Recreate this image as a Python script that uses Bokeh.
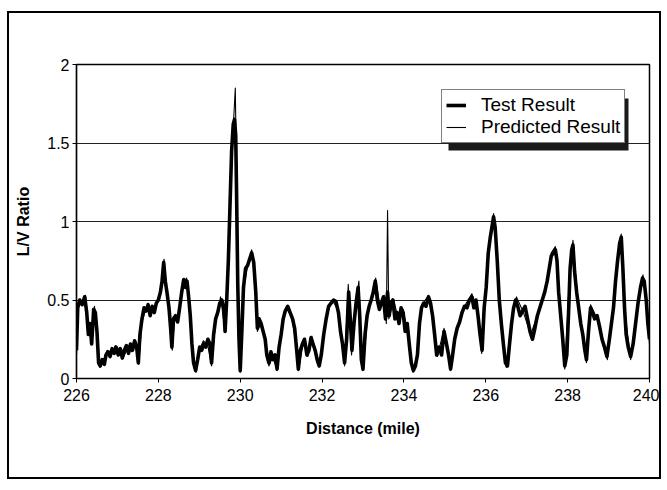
import math
from bokeh.plotting import figure
from bokeh.models import (Range1d, FixedTicker, Legend, LegendItem, Label, BoxAnnotation)
from bokeh.embed import file_html
from bokeh.resources import INLINE

# ---- data ----
x_ticks = [226, 228, 230, 232, 234, 236, 238, 240]
y_ticks = [0, 0.5, 1, 1.5, 2]
y_tick_labels = {0: "0", 0.5: "0.5", 1: "1", 1.5: "1.5", 2: "2"}
grid_levels = [0.5, 1, 1.5]

test_x = [226.00, 226.03, 226.08, 226.14, 226.20, 226.25, 226.29, 226.33, 226.37, 226.42,
          226.46, 226.50, 226.54, 226.58, 226.63, 226.68, 226.72, 226.77, 226.82, 226.87,
          226.92, 226.97, 227.02, 227.07, 227.12, 227.17, 227.22, 227.27, 227.32, 227.37,
          227.42, 227.47, 227.51, 227.55, 227.60, 227.65, 227.70, 227.75, 227.80, 227.85,
          227.90, 227.95, 228.00, 228.05, 228.09, 228.13, 228.17, 228.21, 228.26, 228.30,
          228.33, 228.37, 228.42, 228.47, 228.52, 228.57, 228.62, 228.66, 228.70, 228.74,
          228.78, 228.82, 228.86, 228.91, 228.96, 229.01, 229.06, 229.11, 229.16, 229.21,
          229.26, 229.30, 229.35, 229.40, 229.45, 229.50, 229.55, 229.60, 229.63, 229.67,
          229.71, 229.75, 229.79, 229.83, 229.86, 229.89, 229.91, 229.94, 229.97, 230.00,
          230.04, 230.08, 230.13, 230.18, 230.23, 230.28, 230.33, 230.38, 230.42, 230.46,
          230.51, 230.56, 230.61, 230.65, 230.70, 230.75, 230.80, 230.85, 230.90, 230.95,
          231.00, 231.05, 231.10, 231.16, 231.22, 231.28, 231.33, 231.38, 231.42, 231.47,
          231.52, 231.57, 231.63, 231.68, 231.73, 231.78, 231.83, 231.88, 231.93, 231.98,
          232.04, 232.10, 232.16, 232.22, 232.28, 232.34, 232.40, 232.45, 232.50, 232.55,
          232.60, 232.65, 232.69, 232.73, 232.78, 232.83, 232.88, 232.92, 232.96, 233.00,
          233.05, 233.10, 233.15, 233.20, 233.25, 233.30, 233.35, 233.40, 233.45, 233.50,
          233.55, 233.60, 233.64, 233.68, 233.73, 233.78, 233.83, 233.88, 233.93, 233.98,
          234.03, 234.08, 234.13, 234.18, 234.23, 234.28, 234.33, 234.38, 234.43, 234.48,
          234.54, 234.60, 234.65, 234.70, 234.75, 234.80, 234.86, 234.92, 234.98, 235.04,
          235.09, 235.14, 235.19, 235.24, 235.30, 235.36, 235.42, 235.48, 235.54, 235.60,
          235.66, 235.71, 235.76, 235.81, 235.86, 235.91, 235.96, 236.01, 236.06, 236.11,
          236.16, 236.19, 236.23, 236.28, 236.33, 236.38, 236.43, 236.48, 236.53, 236.58,
          236.63, 236.68, 236.73, 236.78, 236.84, 236.90, 236.96, 237.02, 237.08, 237.14,
          237.20, 237.26, 237.32, 237.38, 237.44, 237.50, 237.55, 237.60, 237.65, 237.70,
          237.74, 237.78, 237.83, 237.88, 237.93, 237.98, 238.02, 238.06, 238.10, 238.13,
          238.17, 238.22, 238.27, 238.32, 238.37, 238.42, 238.46, 238.51, 238.56, 238.61,
          238.66, 238.72, 238.78, 238.84, 238.90, 238.96, 239.02, 239.07, 239.12, 239.17,
          239.22, 239.27, 239.31, 239.35, 239.39, 239.43, 239.48, 239.54, 239.60, 239.66,
          239.72, 239.78, 239.83, 239.87, 239.92, 239.96, 240.00]
test_y = [0.18, 0.45, 0.50, 0.47, 0.52, 0.42, 0.28, 0.35, 0.22, 0.44,
          0.42, 0.30, 0.10, 0.08, 0.12, 0.09, 0.15, 0.17, 0.14, 0.19,
          0.16, 0.20, 0.15, 0.19, 0.13, 0.18, 0.21, 0.16, 0.22, 0.18,
          0.24, 0.20, 0.10, 0.28, 0.38, 0.45, 0.43, 0.47, 0.40, 0.46,
          0.42, 0.48, 0.50, 0.55, 0.62, 0.74, 0.62, 0.55, 0.45, 0.32,
          0.20, 0.38, 0.40, 0.36, 0.45, 0.55, 0.63, 0.58, 0.62, 0.52,
          0.40, 0.22, 0.10, 0.05, 0.12, 0.20, 0.18, 0.22, 0.20, 0.25,
          0.22, 0.10, 0.28, 0.38, 0.42, 0.48, 0.50, 0.45, 0.30, 0.50,
          0.75, 1.10, 1.45, 1.62, 1.65, 1.55, 1.20, 0.60, 0.25, 0.05,
          0.30, 0.58, 0.70, 0.72, 0.76, 0.80, 0.74, 0.55, 0.32, 0.38,
          0.35, 0.30, 0.25, 0.15, 0.10, 0.17, 0.12, 0.15, 0.06, 0.20,
          0.28, 0.38, 0.43, 0.46, 0.42, 0.38, 0.32, 0.18, 0.06, 0.18,
          0.22, 0.25, 0.15, 0.18, 0.26, 0.22, 0.18, 0.12, 0.08, 0.15,
          0.28, 0.38, 0.46, 0.48, 0.50, 0.49, 0.42, 0.30, 0.22, 0.10,
          0.25, 0.55, 0.38, 0.18, 0.35, 0.48, 0.58, 0.40, 0.12, 0.06,
          0.28, 0.40, 0.46, 0.50, 0.55, 0.62, 0.50, 0.44, 0.48, 0.52,
          0.38, 0.55, 0.40, 0.48, 0.50, 0.38, 0.42, 0.35, 0.45, 0.42,
          0.30, 0.35, 0.22, 0.10, 0.05, 0.08, 0.15, 0.35, 0.45, 0.48,
          0.46, 0.52, 0.48, 0.40, 0.28, 0.15, 0.20, 0.15, 0.30, 0.22,
          0.15, 0.06, 0.15, 0.25, 0.32, 0.36, 0.42, 0.46, 0.45, 0.50,
          0.52, 0.45, 0.50, 0.40, 0.28, 0.18, 0.45, 0.58, 0.80, 0.90,
          0.98, 1.03, 0.96, 0.75, 0.50, 0.35, 0.22, 0.10, 0.08, 0.22,
          0.35, 0.45, 0.50, 0.46, 0.40, 0.43, 0.46, 0.38, 0.30, 0.25,
          0.32, 0.40, 0.45, 0.50, 0.55, 0.62, 0.70, 0.78, 0.80, 0.82,
          0.75, 0.55, 0.40, 0.25, 0.08, 0.15, 0.40, 0.70, 0.82, 0.85,
          0.68, 0.55, 0.45, 0.35, 0.28, 0.18, 0.12, 0.30, 0.45, 0.42,
          0.38, 0.40, 0.33, 0.25, 0.20, 0.14, 0.25, 0.35, 0.45, 0.62,
          0.75, 0.86, 0.90, 0.70, 0.45, 0.28, 0.20, 0.14, 0.22, 0.35,
          0.48, 0.58, 0.64, 0.62, 0.50, 0.35, 0.25]

pred_x = [226.00, 226.05, 226.15, 226.22, 226.30, 226.38, 226.44, 226.52, 226.57, 226.66,
          226.75, 226.85, 226.95, 227.05, 227.15, 227.25, 227.35, 227.45, 227.52, 227.60,
          227.70, 227.82, 227.92, 228.02, 228.10, 228.14, 228.20, 228.28, 228.34, 228.40,
          228.50, 228.60, 228.69, 228.76, 228.84, 228.92, 229.00, 229.10, 229.20, 229.30,
          229.40, 229.52, 229.62, 229.68, 229.76, 229.82, 229.88, 229.92, 229.96, 230.00,
          230.07, 230.17, 230.28, 230.36, 230.42, 230.52, 230.62, 230.70, 230.80, 230.90,
          231.00, 231.12, 231.25, 231.35, 231.42, 231.55, 231.65, 231.75, 231.88, 231.98,
          232.10, 232.25, 232.38, 232.50, 232.55, 232.64, 232.72, 232.86, 232.90, 232.96,
          233.00, 233.12, 233.25, 233.31, 233.42, 233.52, 233.57, 233.60, 233.63, 233.75,
          233.86, 233.98, 234.10, 234.22, 234.30, 234.42, 234.60, 234.72, 234.82, 234.98,
          235.14, 235.30, 235.50, 235.66, 235.80, 235.90, 236.02, 236.12, 236.19, 236.26,
          236.36, 236.50, 236.65, 236.75, 236.92, 237.10, 237.28, 237.45, 237.60, 237.70,
          237.80, 237.93, 238.06, 238.13, 238.25, 238.40, 238.46, 238.56, 238.72, 238.90,
          238.97, 239.12, 239.25, 239.31, 239.40, 239.54, 239.70, 239.84, 239.95, 240.00]
pred_y = [0.15, 0.48, 0.50, 0.53, 0.30, 0.24, 0.46, 0.20, 0.07, 0.11,
          0.18, 0.15, 0.21, 0.17, 0.14, 0.19, 0.17, 0.23, 0.09, 0.36,
          0.45, 0.42, 0.45, 0.52, 0.66, 0.76, 0.57, 0.40, 0.18, 0.40,
          0.40, 0.60, 0.64, 0.48, 0.15, 0.04, 0.18, 0.24, 0.22, 0.08,
          0.36, 0.52, 0.32, 0.55, 1.15, 1.55, 1.85, 1.10, 0.35, 0.04,
          0.55, 0.70, 0.82, 0.65, 0.30, 0.36, 0.22, 0.08, 0.14, 0.05,
          0.30, 0.45, 0.40, 0.25, 0.05, 0.24, 0.14, 0.27, 0.10, 0.14,
          0.40, 0.50, 0.44, 0.20, 0.08, 0.60, 0.15, 0.55, 0.62, 0.10,
          0.05, 0.42, 0.56, 0.64, 0.45, 0.53, 0.35, 1.07, 0.38, 0.50,
          0.38, 0.44, 0.28, 0.04, 0.10, 0.46, 0.53, 0.36, 0.14, 0.32,
          0.05, 0.33, 0.47, 0.54, 0.42, 0.16, 0.62, 0.92, 1.05, 0.85,
          0.40, 0.07, 0.42, 0.52, 0.42, 0.28, 0.42, 0.56, 0.80, 0.84,
          0.48, 0.06, 0.72, 0.88, 0.48, 0.22, 0.10, 0.47, 0.38, 0.18,
          0.12, 0.47, 0.84, 0.92, 0.42, 0.12, 0.46, 0.66, 0.40, 0.22]

FONT = "Liberation Sans"

# ---- layout (pixels) ----
W, H = 654, 468
B_LEFT, B_RIGHT, B_TOP, B_BOTTOM = 67, 14, 51, 103
LEG_X, LEG_Y = 365, 235          # legend bottom-left, relative to frame bottom-left
LEG_W, LEG_H, SHADOW = 180, 52, 5

p = figure(width=W, height=H, x_range=Range1d(226, 240), y_range=Range1d(0, 2),
           output_backend="svg", toolbar_location=None,
           min_border_left=B_LEFT, min_border_right=B_RIGHT,
           min_border_top=B_TOP, min_border_bottom=B_BOTTOM,
           background_fill_color="white", border_fill_color="white")
p.styles = {"border": "2px solid black", "margin-left": "7px", "margin-top": "11px"}
p.outline_line_color = "black"
p.outline_line_width = 1.5

for ax in (p.xaxis[0], p.yaxis[0]):
    ax.axis_line_color = "black"
    ax.axis_line_width = 1.2
    ax.major_tick_line_color = "black"
    ax.major_tick_out = 4
    ax.major_tick_in = 0
    ax.minor_tick_line_color = None
    ax.major_label_text_font = FONT
    ax.major_label_text_font_size = "16px"
    ax.major_label_text_color = "black"
    ax.axis_label_text_font = FONT
    ax.axis_label_text_font_size = "16px"
    ax.axis_label_text_font_style = "bold"
    ax.axis_label_text_color = "black"

p.xaxis[0].ticker = FixedTicker(ticks=x_ticks)
p.xaxis[0].axis_label = "Distance (mile)"
p.xaxis[0].major_label_standoff = 6
p.xaxis[0].axis_label_standoff = 16

p.yaxis[0].ticker = FixedTicker(ticks=y_ticks)
p.yaxis[0].major_label_overrides = y_tick_labels
p.yaxis[0].axis_label = "L/V Ratio"
p.yaxis[0].major_label_standoff = 3
p.yaxis[0].axis_label_standoff = 12

p.xgrid.visible = False
p.ygrid[0].ticker = FixedTicker(ticks=grid_levels)
p.ygrid[0].grid_line_color = "#222222"
p.ygrid[0].grid_line_width = 1

r_test = p.line(test_x, test_y, line_color="black", line_width=3.6, line_join="round")
r_pred = p.line(pred_x, pred_y, line_color="black", line_width=1.1, line_join="round")

# drop shadow behind the legend box (canvas pixels)
frame_bottom = H - B_BOTTOM
sh_left = B_LEFT + LEG_X + SHADOW
sh_top = frame_bottom - LEG_Y - LEG_H + SHADOW
p.add_layout(BoxAnnotation(left=sh_left, right=sh_left + LEG_W,
                           top=sh_top, bottom=sh_top + LEG_H,
                           left_units="canvas", right_units="canvas",
                           top_units="canvas", bottom_units="canvas",
                           fill_color="#1a1a1a", fill_alpha=1.0, line_color=None))

legend = Legend(items=[LegendItem(label="Test Result", renderers=[r_test]),
                       LegendItem(label="Predicted Result", renderers=[r_pred])],
                location=(LEG_X, LEG_Y), orientation="vertical",
                padding=4, spacing=0, margin=0,
                glyph_width=20, glyph_height=16, label_height=20,
                label_standoff=15,
                label_text_font=FONT, label_text_font_size="19px",
                label_text_color="black",
                background_fill_color="white", background_fill_alpha=1.0,
                border_line_color="black", border_line_width=1.2)
p.add_layout(legend, "center")

p.add_layout(Label(x=240, y=0, x_offset=7, y_offset=-7, angle=math.pi / 2,
                   text="2948_04.cdr", text_font=FONT, text_font_size="6px",
                   text_baseline="middle", text_align="left", text_color="black"))

open("out.html", "w").write(file_html(p, INLINE))
